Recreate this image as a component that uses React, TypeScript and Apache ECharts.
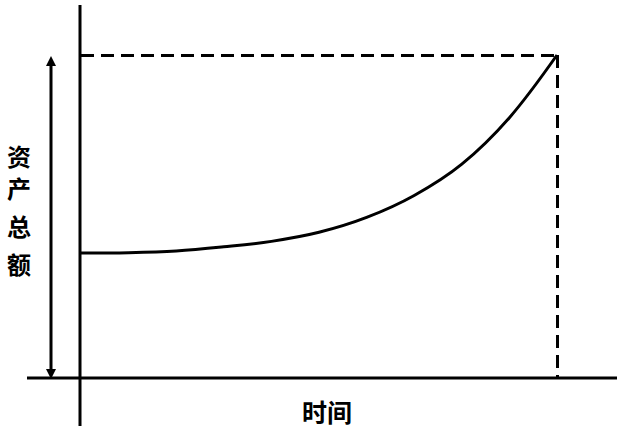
import React, { useEffect, useRef } from "react";
import * as echarts from "echarts";

const times = [0, 1, 2, 3, 4, 5, 6, 7, 8, 9, 10];
const assets = [3.87, 3.88, 3.93, 4.06, 4.23, 4.51, 4.97, 5.65, 6.62, 8.06, 10];
const yLabelChars = ["资", "产", "总", "额"];
const xLabel = "时间";
const peakTime = 10;
const peakValue = 10;

export default function App() {
  const ref = useRef<HTMLDivElement>(null);
  useEffect(() => {
    if (!ref.current) return;
    const chart = echarts.init(ref.current, null, { renderer: "svg" });
    const font = '"Noto Sans CJK SC", sans-serif';
    const charYs = [155, 187, 225, 263];
    const graphics: any[] = [
      // vertical axis
      { type: "line", shape: { x1: 80, y1: 5, x2: 80, y2: 426 }, style: { stroke: "#000", lineWidth: 3 } },
      // horizontal axis
      { type: "line", shape: { x1: 27, y1: 378, x2: 617, y2: 378 }, style: { stroke: "#000", lineWidth: 3 } },
      // double arrow
      { type: "line", shape: { x1: 51, y1: 64, x2: 51, y2: 371 }, style: { stroke: "#000", lineWidth: 3 } },
      { type: "polygon", shape: { points: [[51, 56], [46, 66], [56, 66]] }, style: { fill: "#000" } },
      { type: "polygon", shape: { points: [[51, 379], [46, 369], [56, 369]] }, style: { fill: "#000" } },
      ...yLabelChars.map((c, i) => ({
        type: "text",
        x: 19,
        y: charYs[i],
        style: { text: c, font: `bold 24px ${font}`, lineHeight: 26, fill: "#000", align: "center", verticalAlign: "middle" },
      })),
      {
        type: "text",
        x: 327,
        y: 411,
        style: { text: xLabel, font: `bold 25px ${font}`, fill: "#000", align: "center", verticalAlign: "middle" },
      },
    ];
    chart.setOption({
      animation: false,
      grid: { left: 81, right: 64, top: 55, bottom: 53 },
      xAxis: {
        type: "value", min: 0, max: peakTime,
        axisLine: { show: false }, axisTick: { show: false }, axisLabel: { show: false }, splitLine: { show: false },
      },
      yAxis: {
        type: "value", min: 0, max: peakValue,
        axisLine: { show: false }, axisTick: { show: false }, axisLabel: { show: false }, splitLine: { show: false },
      },
      series: [
        {
          type: "line",
          data: times.map((t, i) => [t, assets[i]]),
          smooth: 0.35,
          showSymbol: false,
          lineStyle: { color: "#000", width: 3 },
          markLine: {
            silent: true,
            symbol: "none",
            label: { show: false },
            lineStyle: { color: "#000", width: 3, type: [13, 7] },
            data: [
              [{ coord: [0, peakValue] }, { coord: [peakTime, peakValue] }],
              [{ coord: [peakTime, peakValue] }, { coord: [peakTime, 0] }],
            ],
          },
        },
      ],
      graphic: graphics,
    });
    return () => chart.dispose();
  }, []);
  return <div ref={ref} style={{ position: "fixed", left: 0, top: 0, width: 621, height: 431, background: "#fff" }} />;
}
